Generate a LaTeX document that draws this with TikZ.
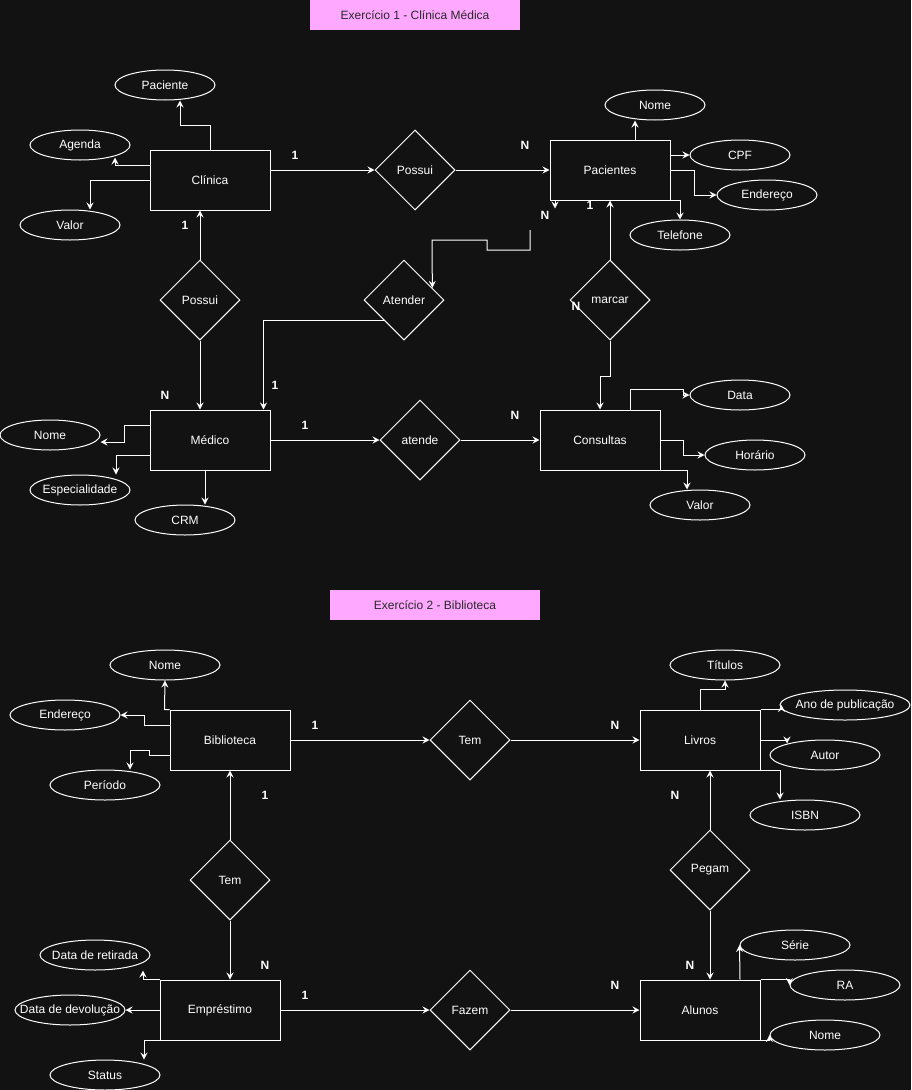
\documentclass[tikz,border=0pt]{standalone}
\usepackage{fontspec}
\setmainfont{Liberation Sans}
\usetikzlibrary{shapes.geometric, arrows.meta, calc}
\definecolor{bgdark}{RGB}{18,18,18}
\definecolor{titlepink}{RGB}{255,168,255}
\definecolor{titletext}{RGB}{40,40,40}

\begin{document}
\begin{tikzpicture}[x=1pt, y=-1pt,
        every node/.style={font=\fontsize{12}{14}\selectfont, text=white},
        entity/.style={draw=white, line width=1pt, minimum width=120pt, minimum height=60pt, inner sep=0pt},
        rel/.style={diamond, draw=white, line width=1pt, minimum width=80pt, minimum height=80pt, inner sep=0pt},
        attr/.style={ellipse, draw=white, line width=1pt, minimum width=#1, minimum height=30pt, inner xsep=-40pt, inner ysep=0pt},
        attr/.default=100pt,
        card/.style={font=\fontsize{12}{14}\selectfont\bfseries},
        titlebox/.style={fill=titlepink, text=titletext, minimum width=210pt, minimum height=30pt},
        conn/.style={draw=white, line width=1pt, -{Stealth[length=7pt, width=7pt, inset=2.5pt]}}]
        \useasboundingbox (0,0) rectangle (911,1090);
        \fill[bgdark] (0,0) rectangle (911,1090);

        \node[titlebox] (title1) at (415,15) {Exercício 1 - Clínica Médica};
        \node[titlebox] (title2) at (435,605) {Exercício 2 - Biblioteca};

        \node[entity] (clinica) at (210,180) {Clínica};
        \node[entity] (pacientes) at (610,170) {Pacientes};
        \node[entity] (medico) at (210,440) {Médico};
        \node[entity] (consultas) at (600,440) {Consultas};
        \node[rel] (possuiA) at (415,170) {Possui};
        \node[rel] (possuiB) at (200,300) {Possui};
        \node[rel] (atender) at (404,300) {Atender};
        \node[rel] (marcar) at (610,300) {marcar};
        \node[rel] (atende) at (420,440) {atende};

        \node[attr] (paciente) at (165,85) {Paciente};
        \node[attr] (agenda) at (80,145) {Agenda};
        \node[attr] (valorC) at (70,225) {Valor};
        \node[attr] (nomeP) at (655,105) {Nome};
        \node[attr] (cpf) at (740,155) {CPF};
        \node[attr] (enderecoP) at (767,195) {Endereço};
        \node[attr] (telefone) at (680,235) {Telefone};
        \node[attr] (nomeM) at (50,435) {Nome};
        \node[attr] (especialidade) at (80,490) {Especialidade};
        \node[attr] (crm) at (185,520) {CRM};
        \node[attr] (data) at (740,395) {Data};
        \node[attr] (horario) at (755,455) {Horário};
        \node[attr] (valorK) at (700,505) {Valor};

        \draw[conn] (clinica.north) -- (210,125) -| ([xshift=15pt]paciente.south);
        \draw[conn] ([yshift=15pt]clinica.west) -| ([xshift=35pt, yshift=3pt]agenda.south);
        \draw[conn] (clinica.west) -| ([xshift=20pt]valorC.north);
        \draw[conn] ([yshift=10pt]clinica.east) -- (possuiA.west);
        \draw[conn] (possuiA.east) -- (pacientes.west);
        \draw[conn] (possuiB.north) -- (clinica.south -| possuiB.north);
        \draw[conn] (possuiB.south) -- (medico.north -| possuiB.south);
        \draw[conn] ([xshift=-55pt]pacientes.south) -- ([xshift=-55pt, yshift=-8pt]pacientes.south);
        \coordinate (atenderStart) at (530,230);
        \draw[conn] (atenderStart) -- (530,250) -- (487,250) -- (487,240) -- (432,240) -- ($(atender.north)!0.7!(atender.east)$);
        \draw[conn] ($(atender.west)!0.5!(atender.south)$) -| ([xshift=-7pt]medico.north east);
        \draw[conn] (marcar.north) -- (pacientes.south);
        \draw[conn] (marcar.south) -- (610,376) -| (consultas.north);
        \draw[conn] (medico.east) -- (atende.west);
        \draw[conn] (atende.east) -- (consultas.west);

        \draw[conn] ([xshift=25pt]pacientes.north) -- ([xshift=-20pt]nomeP.south);
        \draw[conn] ([yshift=15pt]pacientes.east) -- (cpf.west);
        \draw[conn] (pacientes.east) -- ++(24,0) |- (enderecoP.west);
        \draw[conn] (pacientes.south east) -| (telefone.north);
        \draw[conn] ([yshift=15pt]medico.west) -- ++(-25,0) |- ([yshift=-7pt]nomeM.east);
        \draw[conn] ([yshift=-15pt]medico.west) -| ([xshift=36pt]especialidade.north);
        \draw[conn] ([xshift=-5pt]medico.south) -- ([xshift=20pt]crm.north);
        \draw[conn] ([xshift=30pt]consultas.north) -- ++(0,-20) -- ++(53,0) |- (data.west);
        \draw[conn] (consultas.east) -- ++(23,0) |- (horario.west);
        \draw[conn] (consultas.south east) -| ([xshift=-13pt]valorK.north);

        \node[card] (cardA) at (295,155) {1};
        \node[card] (cardB) at (525,145) {N};
        \node[card] (cardC) at (185,225) {1};
        \node[card] (cardD) at (165,395) {N};
        \node[card] (cardE) at (545,215) {N};
        \node[card] (cardF) at (590,205) {1};
        \node[card] (cardG) at (576,306) {N};
        \node[card] (cardH) at (275,385) {1};
        \node[card] (cardI) at (305,425) {1};
        \node[card] (cardJ) at (515,415) {N};

        \node[entity] (biblioteca) at (230,740) {Biblioteca};
        \node[entity] (livros) at (700,740) {Livros};
        \node[entity] (emprestimo) at (220,1010) {Empréstimo};
        \node[entity] (alunos) at (700,1010) {Alunos};
        \node[rel] (temA) at (470,740) {Tem};
        \node[rel] (temB) at (230,880) {Tem};
        \node[rel] (pegam) at (710,870) {Pegam};
        \node[rel] (fazem) at (470,1010) {Fazem};

        \node[attr=110pt] (nomeB) at (165,665) {Nome};
        \node[attr=110pt] (enderecoB) at (65,715) {Endereço};
        \node[attr=110pt] (periodo) at (105,785) {Período};
        \node[attr=110pt] (titulos) at (725,665) {Títulos};
        \node[attr=130pt] (ano) at (845,705) {Ano de publicação};
        \node[attr=110pt] (autor) at (825,755) {Autor};
        \node[attr=110pt] (isbn) at (805,815) {ISBN};
        \node[attr=110pt] (retirada) at (95,955) {Data de retirada};
        \node[attr=110pt] (devolucao) at (70,1010) {Data de devolução};
        \node[attr=110pt] (status) at (105,1075) {Status};
        \node[attr=110pt] (serie) at (795,945) {Série};
        \node[attr=110pt] (ra) at (845,985) {RA};
        \node[attr=110pt] (nomeA) at (825,1035) {Nome};

        \draw[conn] (biblioteca.east) -- (temA.west);
        \draw[conn] (temA.east) -- (livros.west);
        \draw[conn] (temB.north) -- (biblioteca.south);
        \draw[conn] (temB.south) -- (emprestimo.north -| temB.south);
        \draw[conn] (emprestimo.east) -- (fazem.west);
        \draw[conn] (fazem.east) -- (alunos.west);
        \draw[conn] (pegam.north) -- (livros.south -| pegam.north);
        \draw[conn] (pegam.south) -- (alunos.north -| pegam.south);

        \draw[conn] (biblioteca.north west) -- ++(-5,0) -- (nomeB.south);
        \draw[conn] ([yshift=15pt]biblioteca.west) -- ++(-25,0) |- (enderecoB.east);
        \draw[conn] ([yshift=-15pt]biblioteca.west) -- ++(-20,0) -- ++(0,-5) -| ([xshift=25pt]periodo.north);
        \draw[conn] (livros.north) -- ++(0,-20) -| (titulos.south);
        \draw[conn] (livros.north east) -| ([xshift=2pt]ano.west);
        \draw[conn] (livros.east) -| ([xshift=-38pt, yshift=-4pt]autor.north);
        \draw[conn] (livros.south east) -| ([xshift=-25pt]isbn.north);
        \draw[conn] (emprestimo.north west) -| ([xshift=48pt]retirada.south);
        \draw[conn] (emprestimo.west) -- (devolucao.east);
        \draw[conn] (emprestimo.south west) -| ([xshift=39pt]status.north);
        \draw[conn] ([xshift=40pt]alunos.north) -- (serie.west);
        \draw[conn] (alunos.north east) -| (ra.west);
        \draw[conn] (alunos.south east) -| (nomeA.west);

        \node[card] (cardK) at (315,725) {1};
        \node[card] (cardL) at (615,725) {N};
        \node[card] (cardM) at (265,795) {1};
        \node[card] (cardN) at (675,795) {N};
        \node[card] (cardO) at (265,965) {N};
        \node[card] (cardP) at (305,995) {1};
        \node[card] (cardQ) at (615,985) {N};
        \node[card] (cardR) at (690,965) {N};
    \end{tikzpicture}
\end{document}
